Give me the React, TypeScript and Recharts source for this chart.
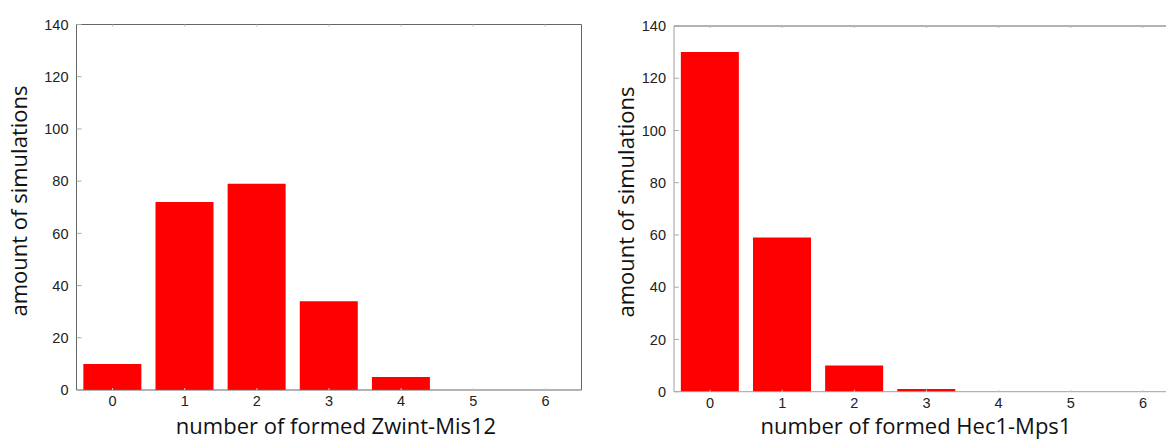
import { BarChart, Bar, XAxis, YAxis } from 'recharts';

// number of formed complexes per simulation (x categories)
const counts = ['0', '1', '2', '3', '4', '5', '6'];
// amount of simulations
const zwintMis12 = [10, 72, 79, 34, 5, 0, 0];
const hec1Mps1 = [130, 59, 10, 1, 0, 0, 0];
const yTicks = [0, 20, 40, 60, 80, 100, 120, 140];

const zwintData = counts.map((k, i) => ({ k, n: zwintMis12[i] }));
const hecData = counts.map((k, i) => ({ k, n: hec1Mps1[i] }));

const TICK_FONT = '"Liberation Sans", Arial, sans-serif';
const TITLE_FONT = '"Open Sans", "Noto Sans", sans-serif';
const TICK_SIZE = 14.5;

// ticks point into the plot, like the original figure
function LeftTick({ x, y, payload }: any) {
  return (
    <g>
      <line x1={x + 8} x2={x + 13} y1={y} y2={y} stroke="#aaa" />
      <text x={x} y={y + 5.2} textAnchor="end" fontSize={TICK_SIZE} fontFamily={TICK_FONT} fill="#222">
        {payload.value}
      </text>
    </g>
  );
}

function RightTick({ x, y }: any) {
  return <line x1={x} x2={x - 5} y1={y} y2={y} stroke="#aaa" />;
}

function BottomTick({ x, y, payload }: any) {
  return (
    <g>
      <line x1={x} x2={x} y1={y - 8} y2={y - 10} stroke="#ccc" />
      <text x={x} y={y + 7.8} textAnchor="middle" fontSize={TICK_SIZE} fontFamily={TICK_FONT} fill="#222">
        {payload.value}
      </text>
    </g>
  );
}

function TopTick({ x, y }: any) {
  return <line x1={x} x2={x} y1={y} y2={y + 2} stroke="#bbb" />;
}

function Panel({ data, margin, yWidth, frame, axisColor }: any) {
  return (
    <BarChart width={600} height={439} data={data} margin={margin} barCategoryGap="9.5%">
      <XAxis
        dataKey="k"
        interval={0}
        height={30}
        tickSize={8}
        tickMargin={0}
        tickLine={false}
        stroke={axisColor}
        tick={<BottomTick />}
      />
      <XAxis
        xAxisId="top"
        orientation="top"
        dataKey="k"
        interval={0}
        height={1}
        tickSize={0}
        tickMargin={0}
        tickLine={false}
        stroke={frame}
        tick={<TopTick />}
      />
      <YAxis
        domain={[0, 140]}
        ticks={yTicks}
        interval={0}
        width={yWidth}
        tickSize={8}
        tickMargin={0}
        tickLine={false}
        stroke={axisColor}
        tick={<LeftTick />}
      />
      <YAxis
        yAxisId="right"
        orientation="right"
        domain={[0, 140]}
        ticks={yTicks}
        interval={0}
        width={1}
        tickSize={0}
        tickMargin={0}
        tickLine={false}
        stroke={frame}
        tick={<RightTick />}
      />
      <Bar dataKey="n" fill="#ff0000" isAnimationActive={false} />
    </BarChart>
  );
}

export default function App() {
  return (
    <div
      style={{
        position: 'absolute',
        left: 0,
        top: 0,
        width: 1166,
        height: 439,
        overflow: 'hidden',
        background: '#fff',
      }}
    >
      <div style={{ position: 'absolute', left: 0, top: 0 }}>
        <Panel
          data={zwintData}
          margin={{ top: 23.5, right: 17.5, bottom: 19, left: 0 }}
          yWidth={76.5}
          frame="#666"
          axisColor="#666"
        />
      </div>
      <div style={{ position: 'absolute', left: 583, top: 0 }}>
        <Panel
          data={hecData}
          margin={{ top: 25, right: 3, bottom: 17.3, left: 0 }}
          yWidth={91}
          frame="#666"
          axisColor="#a0a0a0"
        />
      </div>
      <svg
        width={1166}
        height={439}
        style={{ position: 'absolute', left: 0, top: 0, pointerEvents: 'none' }}
        fontFamily={TITLE_FONT}
        fontSize={22}
        fill="#111"
      >
        <text x={336} y={433.5} textAnchor="middle">number of formed Zwint-Mis12</text>
        <text transform="translate(26.5,201) rotate(-90)" textAnchor="middle">amount of simulations</text>
        <text x={916} y={434} textAnchor="middle">number of formed Hec1-Mps1</text>
        <text transform="translate(634,202) rotate(-90)" textAnchor="middle">amount of simulations</text>
      </svg>
    </div>
  );
}
